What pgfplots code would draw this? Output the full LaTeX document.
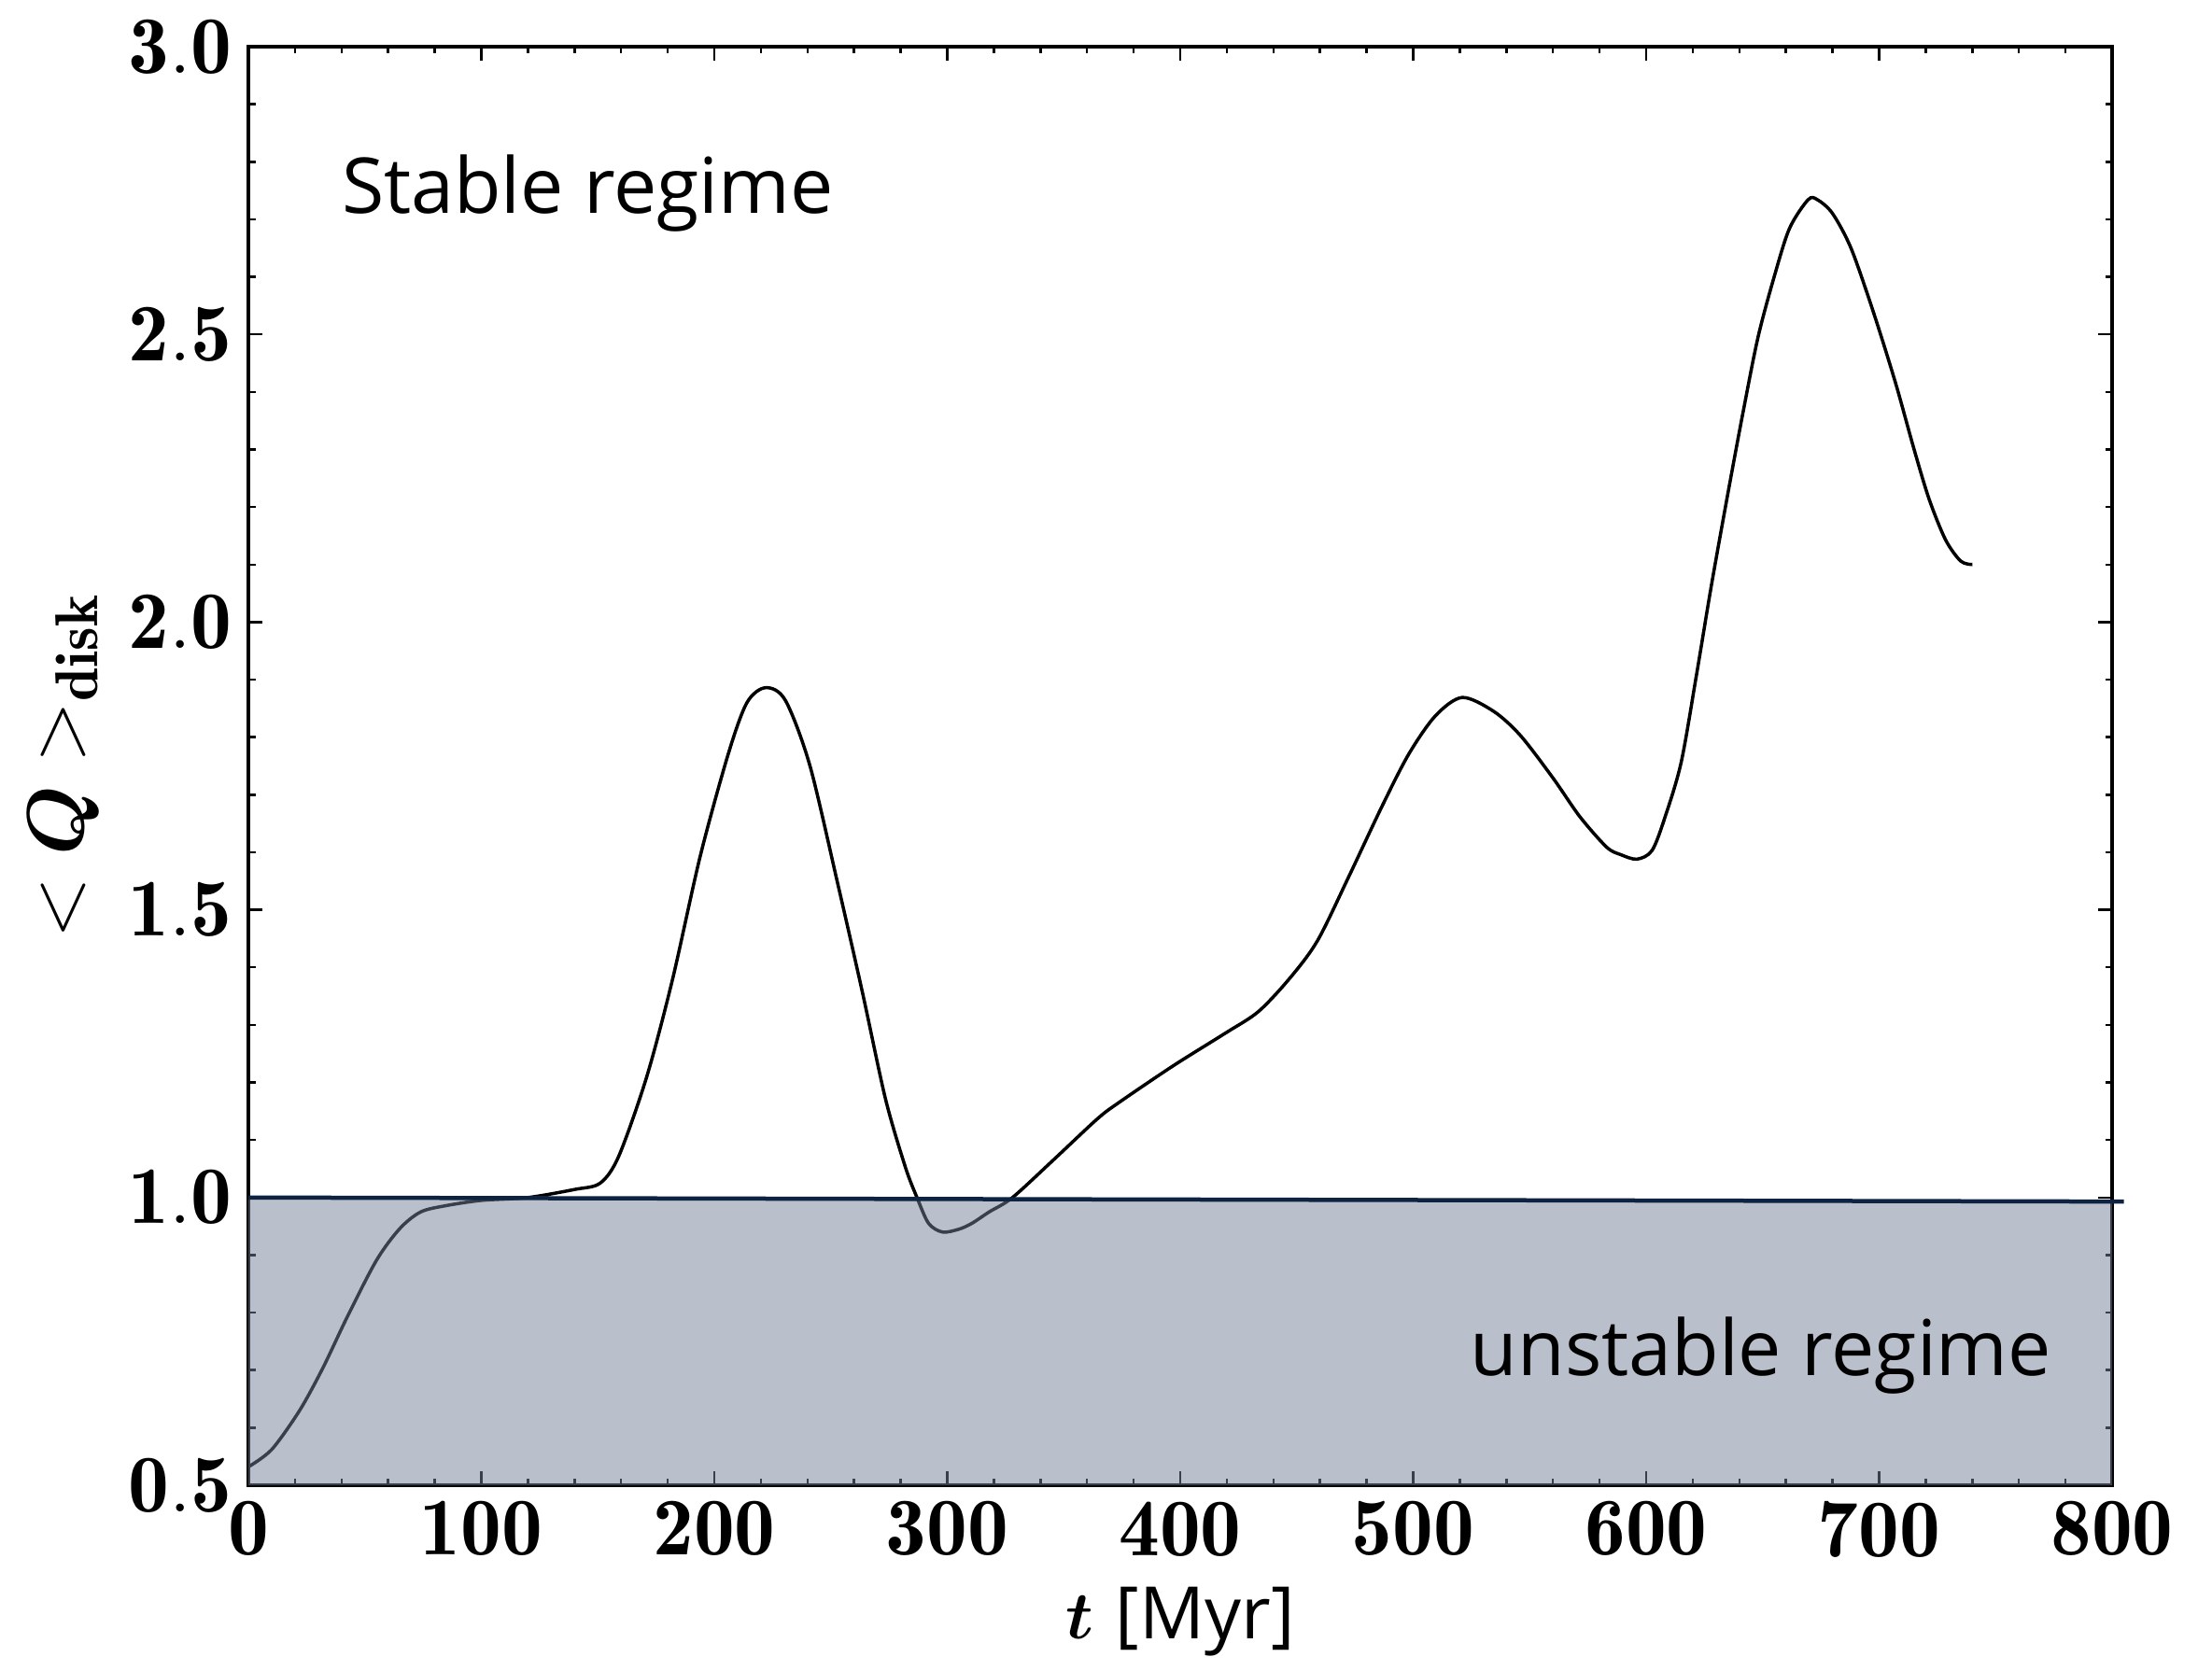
\documentclass[border=0pt]{standalone}
\usepackage{amsmath}
\usepackage{fontspec}
\setsansfont{Open Sans}
\usepackage{pgfplots}
\pgfplotsset{compat=1.18}
\definecolor{qshade}{RGB}{115,127,151}
\definecolor{qnavy}{RGB}{14,35,65}
\begin{document}
\begin{tikzpicture}
\begin{axis}[
  scale only axis,
  width=399.2pt, height=308.2pt,
  xmin=0, xmax=800, ymin=0.5, ymax=3.0,
  xtick={0,100,...,800},
  ytick={0.5,1.0,1.5,2.0,2.5,3.0},
  minor x tick num=4, minor y tick num=4,
  major tick length=3pt, minor tick length=1.5pt,
  tick style={black, line width=0.5pt},
  axis line style={line width=0.8pt},
  tick align=inside,
  tick label style={font=\fontsize{17.5}{17.5}\selectfont},
  xticklabel={$\mathbf{\pgfmathprintnumber{\tick}}$},
  yticklabel={$\mathbf{\pgfmathprintnumber[fixed,fixed zerofill,precision=1]{\tick}}$},
  scaled ticks=false,
  clip=false,
  xlabel={$\boldsymbol{t}$ \textsf{[Myr]}},
  ylabel={$<\boldsymbol{Q}>_{\mathbf{disk}}$},
  every axis x label/.style={at={(rel axis cs:0.5,-0.095)}, anchor=center, font=\fontsize{15.5}{15.5}\selectfont},
  every axis y label/.style={at={(rel axis cs:-0.099,0.5)}, rotate=90, anchor=center, font=\fontsize{18.5}{18.5}\selectfont},
]
\addplot[black, line width=0.7pt, smooth] coordinates {
(0,0.532) (10,0.562) (22,0.630) (32,0.704) (42.5,0.793) (55,0.891) (65,0.946)
(74,0.975) (85,0.986) (100,0.995) (120,1.0) (140,1.014) (151,1.025) (159,1.072)
(171,1.21) (182,1.378) (194,1.594) (206,1.771) (214,1.86) (222,1.886) (230.5,1.864)
(241,1.751) (253,1.545) (263.5,1.358) (273.5,1.171) (282,1.053) (287,1.0) (292,0.955)
(298,0.940) (305,0.945) (310.5,0.955) (318,0.975) (328,1.0) (346,1.067) (364.5,1.137)
(374,1.166) (397,1.229) (419.5,1.286) (433.5,1.323) (447,1.381) (459,1.447) (472.5,1.559)
(486.5,1.679) (498,1.77) (509.5,1.837) (521,1.869) (534.5,1.845) (546,1.803) (560,1.729)
(571.5,1.662) (583,1.609) (589,1.596) (596,1.588) (602.5,1.603) (608,1.66) (615,1.756)
(621.5,1.906) (628,2.064) (635,2.222) (641.5,2.363) (648,2.495) (655,2.601) (661.5,2.684)
(669.5,2.734) (673.5,2.734) (680,2.71) (688,2.649) (697.5,2.539) (707,2.416) (715,2.30)
(721.5,2.213) (728.5,2.143) (735,2.106) (740,2.10)
};
\addplot[draw=none, fill=qshade, fill opacity=0.5] coordinates {
(0,0.5) (0,1.0) (800,0.994) (800,0.5) (0,0.5)
};
\addplot[qnavy, line width=0.9pt] coordinates {(0,1.0) (805,0.993)};
\node[anchor=base west, font=\sffamily\fontsize{16.5}{16.5}\selectfont] at (axis cs:33,2.71) {Stable regime};
\node[anchor=base east, font=\sffamily\fontsize{16.5}{16.5}\selectfont] at (axis cs:781,0.69) {unstable regime};
\end{axis}
\pgfresetboundingbox
\path (current axis.south west) ++(-53.2pt,-39.6pt) rectangle (current axis.north east);
\path (current axis.north east) ++(21.4pt,10pt);
\end{tikzpicture}
\end{document}
